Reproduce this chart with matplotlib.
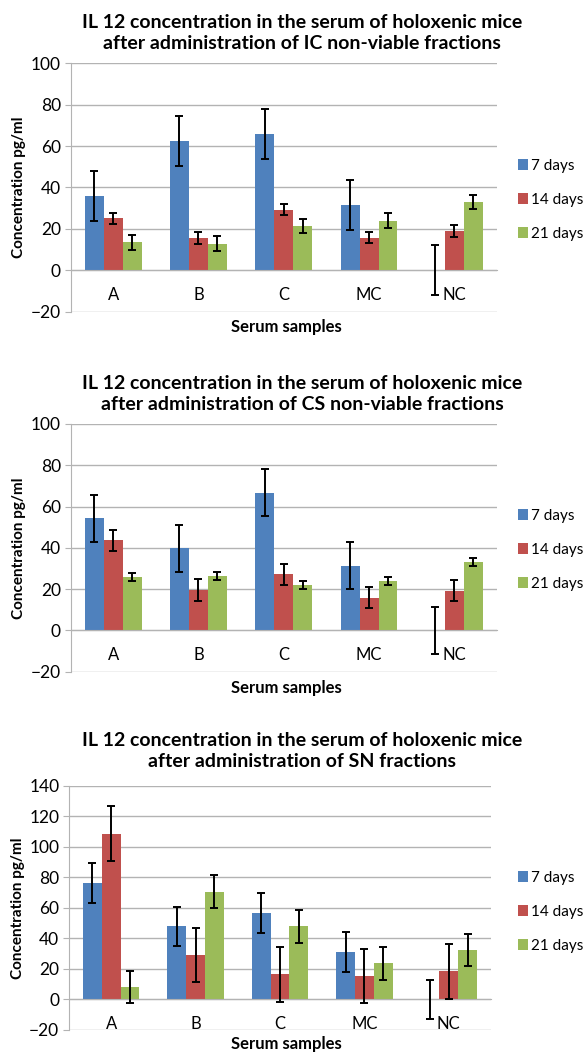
import numpy as np
import matplotlib
matplotlib.use('Agg')
from matplotlib import pyplot as plt
from matplotlib.patches import Patch

plt.rcParams['font.family'] = ['Lato', 'DejaVu Sans']

categories = ['A', 'B', 'C', 'MC', 'NC']
series_names = ['7 days', '14 days', '21 days']

# IC non-viable fractions
ic_7 = [35.9, 62.6, 65.9, 31.4, 0.0]
ic_14 = [25.1, 15.6, 29.3, 15.8, 19.0]
ic_21 = [13.5, 12.9, 21.4, 24.0, 33.0]
ic_err_7 = [12.0, 12.0, 12.0, 12.0, 12.0]
ic_err_14 = [2.8, 2.7, 2.7, 2.7, 2.8]
ic_err_21 = [3.6, 3.7, 3.5, 3.5, 3.6]

# CS non-viable fractions
cs_7 = [54.3, 39.8, 66.7, 31.4, 0.0]
cs_14 = [43.6, 19.5, 27.2, 15.8, 19.2]
cs_21 = [25.9, 26.2, 21.9, 24.0, 33.0]
cs_err_7 = [11.3, 11.4, 11.4, 11.5, 11.3]
cs_err_14 = [5.2, 5.2, 5.1, 5.0, 5.0]
cs_err_21 = [2.0, 2.0, 2.0, 2.0, 2.0]

# SN fractions
sn_7 = [76.1, 47.8, 56.5, 31.2, 0.0]
sn_14 = [108.6, 29.2, 16.6, 15.5, 18.5]
sn_21 = [8.3, 70.7, 47.8, 23.8, 32.5]
sn_err_7 = [13.2, 13.0, 13.0, 13.0, 12.9]
sn_err_14 = [17.9, 17.8, 18.0, 17.8, 18.0]
sn_err_21 = [10.5, 10.6, 10.7, 10.8, 10.7]

titles = ['IL 12 concentration in the serum of holoxenic mice\nafter administration of IC non-viable fractions',
          'IL 12 concentration in the serum of holoxenic mice\nafter administration of CS non-viable fractions',
          'IL 12 concentration in the serum of holoxenic mice\nafter administration of SN fractions']

colors = ['#4F81BD', '#C0504D', '#9BBB59']
GRID = '#B3B3B3'
W, H = 583, 1053

fig = plt.figure(figsize=(W / 100, H / 100), dpi=100)


def px_axes(left, right, top, bottom):
    # pixel box -> figure fraction
    return fig.add_axes([left / W, 1 - bottom / H, (right - left) / W, (bottom - top) / H])


def draw_chart(ax, means, errs, ymax, step, title, title_y, xlabel_y, legend_y):
    x = np.arange(len(categories))
    bw = 1 / 4.5
    for i, (m, e) in enumerate(zip(means, errs)):
        ax.bar(x + (i - 1) * bw, m, bw, color=colors[i], zorder=2)
        ax.errorbar(x + (i - 1) * bw, m, yerr=e, fmt='none', ecolor='black',
                    elinewidth=1.4, capsize=3.2, capthick=1.4, zorder=3)

    ax.set_xlim(-0.5, len(categories) - 0.5)
    ax.set_ylim(-20, ymax)
    ticks = np.arange(-20, ymax + 1, step)
    ax.set_yticks(ticks)
    ax.set_yticklabels(['\u221220' if t < 0 else str(t) for t in ticks])
    ax.yaxis.grid(True, color=GRID, linewidth=1.0, zorder=0)
    ax.set_axisbelow(True)

    for s in ['top', 'right']:
        ax.spines[s].set_visible(False)
    ax.spines['left'].set_color(GRID)
    ax.spines['bottom'].set_position(('data', 0))
    ax.spines['bottom'].set_color(GRID)
    ax.tick_params(axis='y', length=4, color=GRID, labelsize=12.5, pad=3)
    ax.tick_params(axis='x', length=0, labelsize=12, pad=12)
    ax.set_xticks(x)
    ax.set_xticklabels(categories)

    ax.set_ylabel('Concentration pg/ml', fontsize=11, fontweight='bold', labelpad=3)

    fig.text(302 / W, 1 - title_y / H, title, ha='center', va='center',
             fontsize=14, fontweight='bold', linespacing=1.25)
    fig.text(286 / W, 1 - xlabel_y / H, 'Serum samples', ha='center', va='center',
             fontsize=12, fontweight='bold')

    handles = [Patch(facecolor=c) for c in colors]
    fig.legend(handles, series_names, loc='center left',
               bbox_to_anchor=(510 / W, 1 - legend_y / H), frameon=False,
               fontsize=11, handlelength=0.7, handleheight=0.7,
               handletextpad=0.2, labelspacing=1.3, borderpad=0)


ax1 = px_axes(70.5, 497, 63.3, 311.7)
draw_chart(ax1, [ic_7, ic_14, ic_21], [ic_err_7, ic_err_14, ic_err_21], 100, 20,
           titles[0], 33, 327, 200)

ax2 = px_axes(70.5, 497, 424, 671.7)
draw_chart(ax2, [cs_7, cs_14, cs_21], [cs_err_7, cs_err_14, cs_err_21], 100, 20,
           titles[1], 394, 688, 550)

ax3 = px_axes(69, 491, 785.7, 1030)
draw_chart(ax3, [sn_7, sn_14, sn_21], [sn_err_7, sn_err_14, sn_err_21], 140, 20,
           titles[2], 751, 1044, 912)

fig.savefig('out.png', dpi=100, facecolor='white')
